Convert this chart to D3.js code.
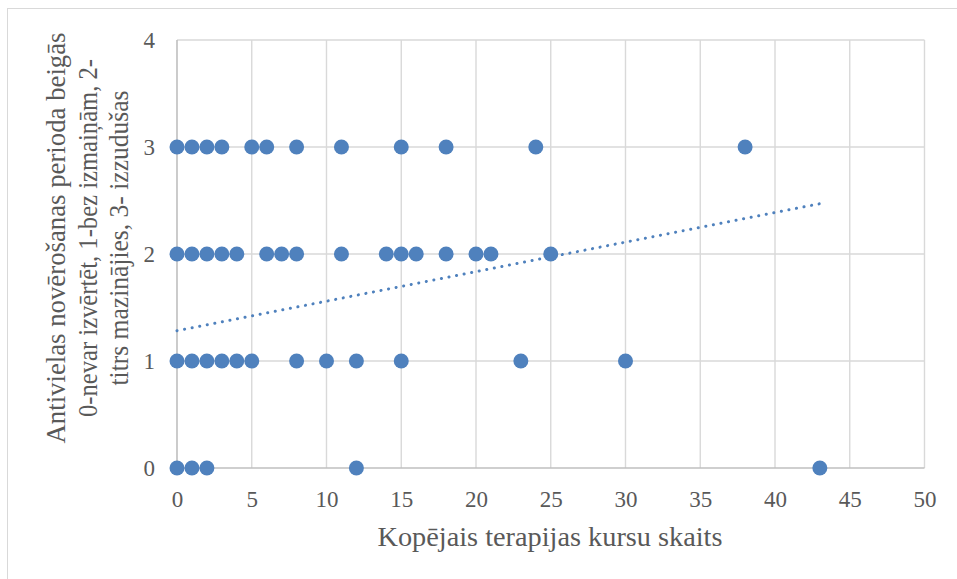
<!DOCTYPE html>
<html>
<head>
<meta charset="utf-8">
<script src="https://cdn.jsdelivr.net/npm/d3@7"></script>
<style>
  html, body { margin: 0; padding: 0; background: #fff; }
  svg { display: block; }
  text { font-family: "Liberation Serif", "Times New Roman", serif; fill: #595959; }
</style>
</head>
<body>
<svg id="chart" width="957" height="579"></svg>
<script>
// Data
const level3X = [0, 1, 2, 3, 5, 6, 8, 11, 15, 18, 24, 38];
const level2X = [0, 1, 2, 3, 4, 6, 7, 8, 11, 14, 15, 16, 18, 20, 21, 25];
const level1X = [0, 1, 2, 3, 4, 5, 8, 10, 12, 15, 23, 30];
const level0X = [0, 1, 2, 12, 43];
const xTicks = [0, 5, 10, 15, 20, 25, 30, 35, 40, 45, 50];
const yTicks = [0, 1, 2, 3, 4];
const trendStart = [0, 1.283];
const trendEnd = [43, 2.47];
const xTitle = "Kopējais terapijas kursu skaits";
const yTitleLines = ["Antivielas novērošanas perioda beigās", "0-nevar izvērtēt, 1-bez izmaiņām, 2-", "titrs mazinājies, 3- izzudušas"];

(function () {
const points = []
  .concat(level0X.map(x => ({x, y: 0})))
  .concat(level1X.map(x => ({x, y: 1})))
  .concat(level2X.map(x => ({x, y: 2})))
  .concat(level3X.map(x => ({x, y: 3})));

const svg = d3.select("#chart");
const pL = 177, pR = 924.5, pT = 40, pB = 468;
const x = d3.scaleLinear().domain([0, 50]).range([pL, pR]);
const y = d3.scaleLinear().domain([0, 4]).range([pB, pT]);

// outer chart border (partly cropped)
svg.append("rect").attr("x", 7.5).attr("y", 8.5).attr("width", 1000).attr("height", 1000)
  .attr("fill", "none").attr("stroke", "#d9d9d9").attr("stroke-width", 1);

// gridlines
svg.append("g").selectAll("line").data(xTicks.filter(d => d !== 0)).join("line")
  .attr("x1", d => x(d)).attr("x2", d => x(d)).attr("y1", pT).attr("y2", pB)
  .attr("stroke", "#d9d9d9").attr("stroke-width", 1.4);
svg.append("g").selectAll("line").data(yTicks.filter(d => d !== 0)).join("line")
  .attr("x1", pL).attr("x2", pR).attr("y1", d => y(d)).attr("y2", d => y(d))
  .attr("stroke", "#d9d9d9").attr("stroke-width", 1.4);

// axes lines
svg.append("line").attr("x1", pL).attr("x2", pL).attr("y1", pT).attr("y2", pB)
  .attr("stroke", "#bfbfbf").attr("stroke-width", 1.6);
svg.append("line").attr("x1", pL).attr("x2", pR).attr("y1", pB).attr("y2", pB)
  .attr("stroke", "#bfbfbf").attr("stroke-width", 1.6);

// axes via d3 axis (labels only)
const xAxis = svg.append("g").attr("transform", `translate(0,${pB})`)
  .call(d3.axisBottom(x).tickValues(xTicks).tickSize(0).tickPadding(0).tickFormat(d3.format("d")));
xAxis.select(".domain").remove();
xAxis.selectAll("text").attr("dy", null).attr("y", 39).attr("font-size", 23)
  .style("font-family", "'Liberation Serif', serif").attr("fill", "#595959");

const yAxis = svg.append("g").attr("transform", `translate(${pL},0)`)
  .call(d3.axisLeft(y).tickValues(yTicks).tickSize(0).tickPadding(0).tickFormat(d3.format("d")));
yAxis.select(".domain").remove();
yAxis.selectAll("text").attr("x", -22).attr("dy", "0.34em").attr("font-size", 23)
  .style("font-family", "'Liberation Serif', serif").attr("fill", "#595959");

// trendline
svg.append("line")
  .attr("x1", x(trendStart[0])).attr("y1", y(trendStart[1]))
  .attr("x2", x(trendEnd[0])).attr("y2", y(trendEnd[1]))
  .attr("stroke", "#4f81bd").attr("stroke-width", 3)
  .attr("stroke-linecap", "round").attr("stroke-dasharray", "0.1 7.6");

// points
svg.append("g").selectAll("circle").data(points).join("circle")
  .attr("cx", d => x(d.x)).attr("cy", d => y(d.y)).attr("r", 7.5)
  .attr("fill", "#4f81bd");

// x title
svg.append("text").attr("x", 550).attr("y", 546).attr("text-anchor", "middle")
  .attr("font-size", 27).attr("textLength", 345).attr("lengthAdjust", "spacingAndGlyphs")
  .text(xTitle);

// y title
const yLens = [411, 358, 295];
const yXs = [65, 97, 128];
yTitleLines.forEach((t, i) => {
  svg.append("text")
    .attr("transform", `translate(${yXs[i]},238) rotate(-90)`)
    .attr("text-anchor", "middle").attr("font-size", 27)
    .attr("textLength", yLens[i]).attr("lengthAdjust", "spacingAndGlyphs")
    .text(t);
});
})();
</script>
</body>
</html>
